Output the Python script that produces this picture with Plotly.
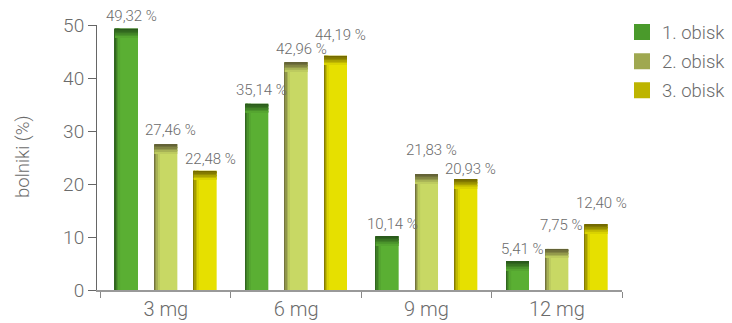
import plotly.graph_objects as go

# Doses on the x axis and share of patients per visit
doses = ["3 mg", "6 mg", "9 mg", "12 mg"]
visit_names = ["1. obisk", "2. obisk", "3. obisk"]
visit1 = [49.32, 35.14, 10.14, 5.41]
visit2 = [27.46, 42.96, 21.83, 7.75]
visit3 = [22.48, 44.19, 20.93, 12.40]
value_labels = [
    ["49,32 %", "35,14 %", "10,14 %", "5,41 %"],
    ["27,46 %", "42,96 %", "21,83 %", "7,75 %"],
    ["22,48 %", "44,19 %", "20,93 %", "12,40 %"],
]
y_ticks = [0, 10, 20, 30, 40, 50]

series = [visit1, visit2, visit3]
fills = ["#5aaf33", "#c8d864", "#e6e000"]
shades = ["#28561a", "#5f5d34", "#6e6400"]
mids = ["#4a9a2b", "#9fa850", "#bdb400"]

# gap in pixels between a bar top and its label, raised where neighbouring labels crowd
label_lift = [
    [6, 7, 5, 5],
    [7, 6, 17, 17],
    [5, 14, 3, 14],
]

FONT = "Roboto"
GREY = "#6b6b6b"

BAR_W = 0.1765
OFFSETS = [-0.39, -0.088, 0.2136]
PX_X = 1 / 130.3   # one pixel in category units
PX_Y = 50 / 264.7  # one pixel in value units


def blend(c1, c2, t):
    a = [int(c1[i:i + 2], 16) for i in (1, 3, 5)]
    b = [int(c2[i:i + 2], 16) for i in (1, 3, 5)]
    return "#" + "".join(f"{round(x + (y - x) * t):02x}" for x, y in zip(a, b))


fig = go.Figure()
annotations = []

EDGE_STEPS = 4
CAP_STEPS = 6
for k, vals in enumerate(series):
    # main bar
    fig.add_trace(go.Bar(
        x=doses, y=vals, offset=OFFSETS[k], width=BAR_W,
        marker=dict(color=fills[k], line=dict(width=0)),
        showlegend=False, hoverinfo="skip",
    ))
    # shaded left edge
    for s in range(EDGE_STEPS):
        fig.add_trace(go.Bar(
            x=doses, y=vals, offset=OFFSETS[k] + s * 1.3 * PX_X, width=1.3 * PX_X,
            marker=dict(color=blend(shades[k], fills[k], ((s + 0.5) / EDGE_STEPS) ** 0.8),
                        line=dict(width=0)),
            showlegend=False, hoverinfo="skip",
        ))
    # shaded top cap
    for s in range(CAP_STEPS):
        cap = [1.5 * PX_Y] * len(vals)
        base = [v - (s + 1) * 1.5 * PX_Y for v in vals]
        fig.add_trace(go.Bar(
            x=doses, y=cap, base=base, offset=OFFSETS[k], width=BAR_W,
            marker=dict(color=blend(shades[k], fills[k], ((s + 0.5) / CAP_STEPS) ** 1.3),
                        line=dict(width=0)),
            showlegend=False, hoverinfo="skip",
        ))
    # value labels above the bars
    for i, v in enumerate(vals):
        annotations.append(dict(
            text=value_labels[k][i], showarrow=False,
            x=i + OFFSETS[k] + BAR_W / 2, y=v, xref="x", yref="y",
            xanchor="center", yanchor="bottom", xshift=5, yshift=label_lift[k][i] - 4,
            font=dict(family=FONT, size=15, color=GREY, weight=300),
        ))

# legend swatches
for k, name in enumerate(visit_names):
    fig.add_trace(go.Scatter(
        x=[None], y=[None], mode="markers", name=name,
        marker=dict(symbol="square", size=16, color=mids[k], line=dict(width=0)),
        legendgroup=name,
    ))

annotations.append(dict(
    text="bolniki (%)", textangle=-90, showarrow=False,
    xref="paper", yref="paper", x=(22.5 - 96.7) / 525.3, y=(289.7 - 157) / 264.7,
    xanchor="center", yanchor="middle",
    font=dict(family=FONT, size=18.5, color=GREY, weight=300),
))

fig.update_layout(
    width=732, height=323,
    margin=dict(l=96.7, r=110, t=25, b=33.3, autoexpand=False),
    barmode="overlay",
    plot_bgcolor="white", paper_bgcolor="white",
    font=dict(family=FONT, color=GREY, weight=300),
    legend=dict(
        xref="container", yref="container",
        x=622 / 732, xanchor="left", y=0.958, yanchor="top",
        font=dict(family=FONT, size=18.5, color=GREY, weight=300),
        tracegroupgap=2, itemwidth=30,
        bgcolor="rgba(0,0,0,0)",
    ),
    xaxis=dict(
        range=[-0.528, 3.5], showgrid=False, zeroline=False, automargin=False,
        showline=True, linecolor="#999999", linewidth=1.5,
        ticks="outside", ticklen=6, tickcolor="#888888", tickson="boundaries",
        tickfont=dict(family=FONT, size=20, color=GREY, weight=300),
    ),
    yaxis=dict(
        range=[0, 50], tickvals=y_ticks, showgrid=False, zeroline=False, automargin=False,
        showline=True, linecolor="#666666", linewidth=1,
        ticks="outside", ticklen=8, tickcolor="#666666",
        tickfont=dict(family=FONT, size=19, color=GREY, weight=300),
    ),
    annotations=annotations,
)

fig.write_html("out.html")
